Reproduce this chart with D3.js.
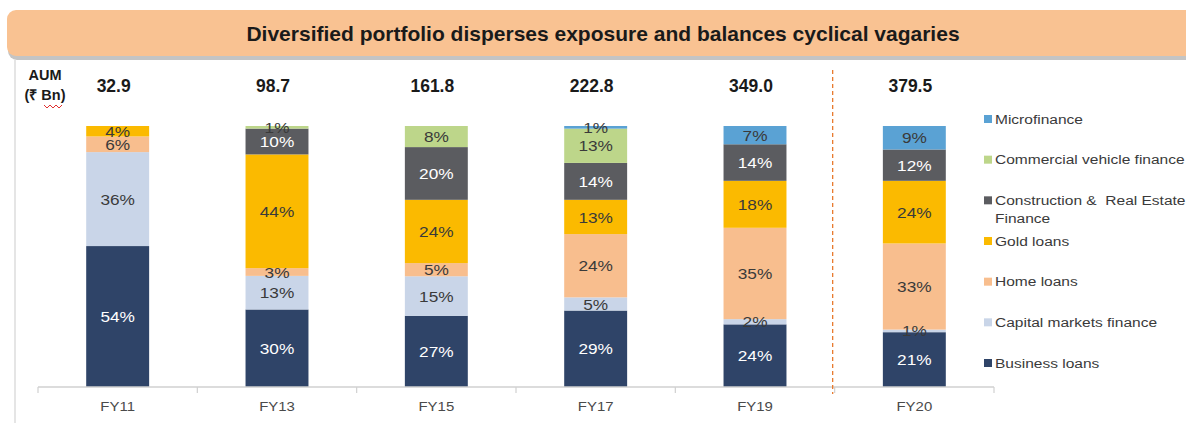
<!DOCTYPE html>
<html>
<head>
<meta charset="utf-8">
<script src="https://cdn.jsdelivr.net/npm/d3@7"></script>
<style>
  body { margin: 0; background: #fff; }
  svg { display: block; font-family: "Liberation Sans", Arial, sans-serif; }
</style>
</head>
<body>
<svg id="chart" width="1186" height="423"></svg>
<script>
// chart values
var years = ["FY11", "FY13", "FY15", "FY17", "FY19", "FY20"];
var aum = ["32.9", "98.7", "161.8", "222.8", "349.0", "379.5"];
var segments = ["Business loans", "Capital markets finance", "Home loans", "Gold loans",
  "Construction & Real Estate Finance", "Commercial vehicle finance", "Microfinance"];
var businessLoans = [54, 30, 27, 29, 24, 21];
var capitalMarkets = [36, 13, 15, 5, 2, 1];
var homeLoans = [6, 3, 5, 24, 35, 33];
var goldLoans = [4, 44, 24, 13, 18, 24];
var construction = [0, 10, 20, 14, 14, 12];
var commercialVehicle = [0, 1, 8, 13, 0, 0];
var microfinance = [0, 0, 0, 1, 7, 9];

var segColors = ["#2f4468", "#c9d5e8", "#f8be8e", "#fbba00", "#5b5c60", "#bdd68a", "#5aa2d4"];
var whiteLabel = ["Business loans", "Construction & Real Estate Finance"];

// the embedded chart in the slide is a bit stretched sideways
var stretch = 1.15;

var svg = d3.select("#chart");

// build rows for the stack
var series = [businessLoans, capitalMarkets, homeLoans, goldLoans, construction, commercialVehicle, microfinance];
var rows = years.map(function(y, i) {
  var row = {year: y, aum: aum[i]};
  segments.forEach(function(s, k) { row[s] = series[k][i]; });
  return row;
});

var stacked = d3.stack().keys(segments).offset(d3.stackOffsetExpand)(rows);

var x = d3.scaleBand()
  .domain(years)
  .range([38, 994])
  .paddingInner(0.605)
  .paddingOuter(0.3025);

var y = d3.scaleLinear().domain([0, 1]).range([387, 126]);

var color = d3.scaleOrdinal().domain(segments).range(segColors);

// text placed at (px,py) but widened horizontally
function wide(sel, px, py) {
  return sel.attr("transform", "translate(" + px + "," + py + ") scale(" + stretch + ",1)");
}

// header banner
svg.append("rect")
  .attr("x", 8).attr("y", 13).attr("width", 1200).attr("height", 47)
  .attr("rx", 9).attr("fill", "#c4c4c4");
svg.append("rect")
  .attr("x", 7).attr("y", 10).attr("width", 1200).attr("height", 46)
  .attr("rx", 9).attr("fill", "#f9c292");
svg.append("text")
  .attr("x", 603).attr("y", 33)
  .attr("text-anchor", "middle").attr("dominant-baseline", "central")
  .attr("font-size", 21).attr("font-weight", "bold").attr("fill", "#1a1a1a")
  .text("Diversified portfolio disperses exposure and balances cyclical vagaries");

// frame line on the left
svg.append("line")
  .attr("x1", 15).attr("x2", 15).attr("y1", 60).attr("y2", 423)
  .attr("stroke", "#d4d4d4").attr("stroke-width", 1.2);

// AUM header
var aumHead = svg.append("text")
  .attr("x", 45).attr("text-anchor", "middle")
  .attr("font-size", 14.5).attr("font-weight", "bold").attr("fill", "#1a1a1a");
aumHead.append("tspan").attr("x", 45).attr("y", 80).text("AUM");
aumHead.append("tspan").attr("x", 45).attr("y", 100).text("(₹ Bn)");
// spell-check squiggle under "Bn"
svg.append("path")
  .attr("d", d3.range(0, 7).map(function(i) {
    return (i === 0 ? "M" : "L") + (44 + i * 3) + "," + (i % 2 ? 108 : 105);
  }).join(""))
  .attr("fill", "none").attr("stroke", "#e03030").attr("stroke-width", 1);

// AUM values
svg.append("g").selectAll("text")
  .data(rows)
  .join("text")
  .attr("x", function(d) { return x(d.year) + x.bandwidth() / 2 - 4; })
  .attr("y", 86)
  .attr("text-anchor", "middle").attr("dominant-baseline", "central")
  .attr("font-size", 17.5).attr("font-weight", "bold").attr("fill", "#1a1a1a")
  .text(function(d) { return d.aum; });

// bars
var layer = svg.append("g").selectAll("g")
  .data(stacked)
  .join("g")
  .attr("fill", function(d) { return color(d.key); });

layer.selectAll("rect")
  .data(function(d) { return d; })
  .join("rect")
  .attr("x", function(d) { return x(d.data.year); })
  .attr("width", x.bandwidth())
  .attr("y", function(d) { return y(d[1]); })
  .attr("height", function(d) { return y(d[0]) - y(d[1]); });

// segment labels
stacked.forEach(function(s) {
  svg.append("g").selectAll("text")
    .data(s.filter(function(d) { return d.data[s.key] > 0; }))
    .join("text")
    .each(function(d) {
      wide(d3.select(this), x(d.data.year) + x.bandwidth() / 2, y((d[0] + d[1]) / 2));
    })
    .attr("text-anchor", "middle").attr("dominant-baseline", "central")
    .attr("font-size", 15)
    .attr("fill", whiteLabel.indexOf(s.key) >= 0 ? "#ffffff" : "#3a3a3a")
    .text(function(d) { return d.data[s.key] + "%"; });
});

// category axis
var axis = svg.append("g").attr("transform", "translate(0,387)");
axis.append("line")
  .attr("x1", x.range()[0]).attr("x2", x.range()[1])
  .attr("stroke", "#d0d0d0").attr("stroke-width", 1.5);
var step = x.step();
var bounds = years.map(function(d) { return x(d) - (step - x.bandwidth()) / 2; })
  .concat([x.range()[1]]);
axis.selectAll("line.tick")
  .data(bounds)
  .join("line").attr("class", "tick")
  .attr("x1", function(d) { return d; }).attr("x2", function(d) { return d; })
  .attr("y1", 0).attr("y2", 6)
  .attr("stroke", "#d0d0d0").attr("stroke-width", 1.2);
axis.selectAll("text")
  .data(years)
  .join("text")
  .each(function(d) { wide(d3.select(this), x(d) + x.bandwidth() / 2, 19); })
  .attr("text-anchor", "middle").attr("dominant-baseline", "central")
  .attr("font-size", 13).attr("fill", "#4a4a4a")
  .text(function(d) { return d; });

// dashed divider before FY20
var divX = x("FY20") - (step - x.bandwidth()) / 2;
svg.append("line")
  .attr("x1", divX - 2).attr("x2", divX - 2).attr("y1", 70).attr("y2", 394)
  .attr("stroke", "#e87a2e").attr("stroke-width", 1.3)
  .attr("stroke-dasharray", "4,3");

// legend (top to bottom: reversed stack order)
var legendY = d3.scalePoint().domain(segments.slice().reverse()).range([119, 363]);
var legend = svg.append("g").selectAll("g")
  .data(segments.slice().reverse())
  .join("g")
  .attr("transform", function(d) { return "translate(984," + legendY(d) + ")"; });
legend.append("rect")
  .attr("x", 0).attr("y", -4).attr("width", 8).attr("height", 8)
  .attr("fill", function(d) { return color(d); });
legend.append("text")
  .attr("transform", "translate(11,0) scale(" + stretch + ",1)")
  .attr("font-size", 13.5).attr("fill", "#3a3a3a")
  .each(function(d) {
    var t = d3.select(this);
    var lines = d === "Construction & Real Estate Finance"
      ? ["Construction &  Real Estate", "Finance"] : [d];
    lines.forEach(function(line, i) {
      t.append("tspan")
        .attr("x", 0)
        .attr("y", i * 18)
        .attr("dominant-baseline", "central")
        .style("white-space", "pre")
        .text(line);
    });
  });
</script>
</body>
</html>
